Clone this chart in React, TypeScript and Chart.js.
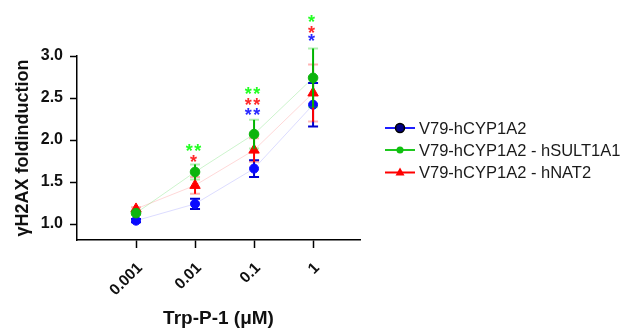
import React, { useEffect, useRef } from "react";
import { Chart, registerables } from "chart.js";

Chart.register(...registerables);

const concentrations = [0.001, 0.01, 0.1, 1];
const tickLabels = ["0.001", "0.01", "0.1", "1"];
const yTicks = [1.0, 1.5, 2.0, 2.5, 3.0];

const seriesNames = ["V79-hCYP1A2", "V79-hCYP1A2 - hSULT1A1", "V79-hCYP1A2 - hNAT2"];

const cyp1a2Mean = [1.04, 1.24, 1.66, 2.42];
const cyp1a2Err = [0.02, 0.06, 0.1, 0.26];

const sultMean = [1.13, 1.62, 2.07, 2.74];
const sultErr = [0.02, 0.09, 0.17, 0.35];

const natMean = [1.18, 1.46, 1.88, 2.56];
const natErr = [0.02, 0.1, 0.14, 0.34];

// significance annotations and their heights (in y-axis units)
const cyp1a2Sig = ["", "", "**", "*"];
const cyp1a2SigY = [0, 0, 2.36, 3.23];
const sultSig = ["", "**", "**", "*"];
const sultSigY = [0, 1.93, 2.61, 3.46];
const natSig = ["", "*", "**", "*"];
const natSigY = [0, 1.8, 2.47, 3.33];

const FONT = "'Liberation Sans', Arial, Helvetica, sans-serif";

export default function App() {
  const ref = useRef<HTMLCanvasElement | null>(null);

  useEffect(() => {
    const canvas = ref.current;
    if (!canvas) return;

    const errs = [cyp1a2Err, sultErr, natErr];
    const errColors = ["#0000d0", "#00b400", "#ff0000"];
    const capColors = ["#0000d0", "rgba(0,200,0,0.3)", "rgba(255,0,0,0.3)"];
    const sigs = [cyp1a2Sig, sultSig, natSig];
    const sigYs = [cyp1a2SigY, sultSigY, natSigY];
    const sigColors = ["#2a2aff", "#22ff22", "#ff2a2a"];

    const errorBarPlugin = {
      id: "errorBars",
      beforeDatasetDraw(chart: any, args: any) {
        const i = args.index;
        const ds = chart.data.datasets[i];
        const xs = chart.scales.x;
        const ys = chart.scales.y;
        const ctx = chart.ctx;
        ctx.save();
        ds.data.forEach((p: any, j: number) => {
          const e = errs[i][j];
          const px = xs.getPixelForValue(p.x);
          const top = ys.getPixelForValue(p.y + e);
          const bot = ys.getPixelForValue(p.y - e);
          ctx.strokeStyle = errColors[i];
          ctx.lineWidth = 2;
          ctx.beginPath();
          ctx.moveTo(px, top);
          ctx.lineTo(px, bot);
          ctx.stroke();
          ctx.strokeStyle = capColors[i];
          ctx.beginPath();
          ctx.moveTo(px - 5, top);
          ctx.lineTo(px + 5, top);
          ctx.moveTo(px - 5, bot);
          ctx.lineTo(px + 5, bot);
          ctx.stroke();
        });
        ctx.restore();
      },
      afterDraw(chart: any) {
        const ctx = chart.ctx;
        const xs = chart.scales.x;
        const ys = chart.scales.y;
        ctx.save();
        // significance stars
        const fs = 18;
        ctx.font = `bold ${fs}px ${FONT}`;
        ctx.textAlign = "center";
        ctx.textBaseline = "alphabetic";
        const gap = 8.4;
        sigs.forEach((arr, i) => {
          arr.forEach((s, j) => {
            if (!s) return;
            const px = xs.getPixelForValue(concentrations[j]) - 1.5;
            const py = ys.getPixelForValue(sigYs[i][j]);
            ctx.fillStyle = sigColors[i];
            const n = s.length;
            for (let k = 0; k < n; k++) {
              const cx = px + (k - (n - 1) / 2) * gap;
              ctx.fillText("*", cx, py + fs * 0.6);
            }
          });
        });
        // legend
        const rows = [128, 150, 172.5];
        const lineCol = ["#1e1eff", "#1ec81e", "#ff0000"];
        rows.forEach((ry, i) => {
          ctx.strokeStyle = lineCol[i];
          ctx.lineWidth = 2;
          ctx.beginPath();
          ctx.moveTo(385, ry);
          ctx.lineTo(415, ry);
          ctx.stroke();
          if (i === 0) {
            ctx.fillStyle = "#000080";
            ctx.strokeStyle = "#000000";
            ctx.lineWidth = 1.5;
            ctx.beginPath();
            ctx.arc(400, ry, 4.5, 0, Math.PI * 2);
            ctx.fill();
            ctx.stroke();
          } else if (i === 1) {
            ctx.fillStyle = "#10c010";
            ctx.beginPath();
            ctx.arc(400, ry, 3.5, 0, Math.PI * 2);
            ctx.fill();
          } else {
            ctx.fillStyle = "#ff0000";
            ctx.beginPath();
            ctx.moveTo(400, ry - 5);
            ctx.lineTo(404.5, ry + 3);
            ctx.lineTo(395.5, ry + 3);
            ctx.closePath();
            ctx.fill();
          }
          ctx.fillStyle = "#1a1a1a";
          ctx.font = `16.5px ${FONT}`;
          ctx.textAlign = "left";
          ctx.textBaseline = "middle";
          ctx.fillText(seriesNames[i], 419, ry + 1);
        });
        ctx.restore();
      },
    };

    const mk = (m: number[]) => concentrations.map((c, j) => ({ x: c, y: m[j] }));

    const chart = new Chart(canvas, {
      type: "line",
      data: {
        datasets: [
          {
            label: seriesNames[0],
            data: mk(cyp1a2Mean),
            borderColor: "rgba(60,60,255,0.18)",
            borderWidth: 1,
            pointBackgroundColor: "#0a0aff",
            pointBorderColor: "#0a0aff",
            pointStyle: "circle",
            pointRadius: 4.5,
            order: 3,
            clip: false,
          },
          {
            label: seriesNames[1],
            data: mk(sultMean),
            borderColor: "rgba(0,200,0,0.2)",
            borderWidth: 1,
            pointBackgroundColor: "#0cb40c",
            pointBorderColor: "#0cb40c",
            pointStyle: "circle",
            pointRadius: 4.8,
            order: 1,
            clip: false,
          },
          {
            label: seriesNames[2],
            data: mk(natMean),
            borderColor: "rgba(255,60,60,0.2)",
            borderWidth: 1,
            pointBackgroundColor: "#ff0000",
            pointBorderColor: "#ff0000",
            pointStyle: "triangle",
            pointRadius: 6,
            order: 2,
            clip: false,
          },
        ] as any,
      },
      options: {
        animation: false,
        responsive: false,
        layout: { padding: { left: 0, top: 56, right: 267, bottom: 0 } },
        plugins: { legend: { display: false }, tooltip: { enabled: false } },
        scales: {
          x: {
            type: "logarithmic",
            min: 0.0001,
            max: 6.24,
            afterBuildTicks: (s: any) => {
              s.ticks = concentrations.map((v) => ({ value: v }));
            },
            afterFit: (s: any) => {
              s.height = 88;
            },
            grid: {
              display: true,
              drawOnChartArea: false,
              drawTicks: true,
              tickLength: 8,
              tickWidth: 1.5,
              tickColor: "#000",
            },
            border: { display: true, color: "#000", width: 1.5 },
            ticks: {
              autoSkip: false,
              minRotation: 45,
              maxRotation: 45,
              padding: 11,
              labelOffset: 4,
              color: "#111",
              font: { family: FONT, size: 15.5, weight: "bold" },
              callback: (v: any) => {
                const k = concentrations.indexOf(Number(v));
                return k >= 0 ? tickLabels[k] : "";
              },
            },
            title: {
              display: true,
              text: "Trp-P-1 (μM)",
              color: "#111",
              font: { family: FONT, size: 19, weight: "bold", lineHeight: 1 },
              padding: { top: 0, bottom: 0 },
            },
          },
          y: {
            type: "linear",
            min: 0.81,
            max: 3.0,
            afterBuildTicks: (s: any) => {
              s.ticks = yTicks.map((v) => ({ value: v }));
            },
            afterFit: (s: any) => {
              s.width = 77;
            },
            grid: {
              display: true,
              drawOnChartArea: false,
              drawTicks: true,
              tickLength: 7,
              tickWidth: 1.5,
              tickColor: "#000",
            },
            border: { display: true, color: "#000", width: 1.5 },
            ticks: {
              padding: 7,
              color: "#111",
              font: { family: FONT, size: 16, weight: "bold" },
              callback: (v: any) => Number(v).toFixed(1),
            },
            title: {
              display: true,
              text: "γH2AX foldinduction",
              color: "#111",
              font: { family: FONT, size: 18, weight: "bold", lineHeight: 1.2 },
              padding: { top: 12, bottom: 0 },
            },
          },
        },
      } as any,
      plugins: [errorBarPlugin],
    });

    return () => chart.destroy();
  }, []);

  return (
    <div style={{ position: "fixed", left: 0, top: 0, width: 627, height: 328, background: "#fff" }}>
      <canvas ref={ref} width={627} height={328} style={{ display: "block" }} />
    </div>
  );
}
